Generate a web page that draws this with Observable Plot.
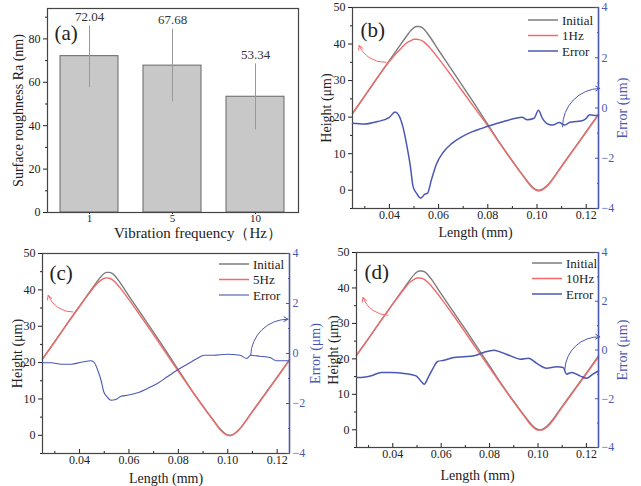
<!DOCTYPE html>
<html><head><meta charset="utf-8">
<script src="https://cdn.jsdelivr.net/npm/d3@7"></script>
<script src="https://cdn.jsdelivr.net/npm/@observablehq/plot@0.6"></script>
<style>
body{margin:0;background:#fff;}
#fig{position:relative;width:641px;height:486px;font-family:"Liberation Serif",serif;overflow:hidden;}
.pane{position:absolute;}
.pane svg{position:absolute;left:0;top:0;max-width:none;overflow:visible;}
.leg{position:absolute;}
</style></head><body><div id="fig"></div>
<script>
// ---------- panel (a) data ----------
const freqs = ["1", "5", "10"];
const ra = [72.04, 67.68, 53.34];
const raLow = [57.5, 51.0, 38.0];
const raHigh = [86.0, 84.5, 68.5];

// ---------- height profiles ----------
const xs = [0.025,0.030,0.035,0.040,0.045,0.047,0.049,0.050,0.051,0.052,0.053,0.054,0.056,0.060,0.065,0.070,0.075,0.080,0.085,0.090,0.095,0.097,0.099,0.100,0.101,0.102,0.104,0.110,0.115,0.120,0.125];
const initial = [21.0,25.8,30.7,35.5,40.3,42.2,43.9,44.5,44.8,44.8,44.6,44.1,42.4,38.3,33.3,28.3,23.2,18.0,12.8,8.0,3.4,1.7,0.4,0.1,0.0,0.2,1.2,6.6,11.3,16.0,20.8];
const hz1 = [21.0,25.8,30.7,35.3,39.0,40.3,41.0,41.3,41.3,41.2,41.0,40.6,39.3,36.0,31.5,26.8,22.2,17.6,12.7,7.9,3.3,1.5,0.2,-0.1,-0.2,0.0,1.0,6.5,11.2,15.9,20.7];
const hz5 = [21.0,25.8,30.7,35.5,40.0,41.7,42.8,43.2,43.3,43.2,42.9,42.4,40.9,37.3,32.5,27.6,22.6,17.6,12.7,7.9,3.3,1.5,0.3,0.0,-0.1,0.1,1.1,6.5,11.2,15.9,20.7];
const hz10 = [21.0,25.8,30.7,35.5,40.0,41.6,42.5,42.8,42.8,42.7,42.4,41.9,40.5,37.0,32.3,27.4,22.4,17.5,12.6,7.8,3.2,1.4,0.2,-0.1,-0.1,0.0,0.9,6.4,11.1,15.8,20.6];

// ---------- error profiles ----------
const errXb = [0.025,0.0297,0.0352,0.040,0.0423,0.0437,0.0455,0.0472,0.0486,0.0496,0.051,0.0527,0.0544,0.0555,0.0571,0.0591,0.0619,0.0653,0.0694,0.0735,0.0776,0.0817,0.0865,0.0913,0.094,0.096,0.0988,0.1006,0.1022,0.1039,0.1063,0.1091,0.1111,0.1132,0.1159,0.1186,0.120,0.1214,0.1241,0.125];
const errB = [-0.61,-0.64,-0.54,-0.37,-0.16,-0.27,-0.75,-1.56,-2.37,-3.12,-3.39,-3.59,-3.43,-3.39,-2.85,-2.24,-1.76,-1.42,-1.15,-0.95,-0.81,-0.68,-0.54,-0.41,-0.37,-0.47,-0.41,-0.09,-0.41,-0.61,-0.68,-0.58,-0.68,-0.58,-0.54,-0.50,-0.41,-0.27,-0.30,-0.30];
const errXc = [0.025,0.0286,0.0326,0.0366,0.0407,0.0447,0.046,0.0476,0.0487,0.0498,0.0511,0.0527,0.0547,0.0568,0.0594,0.0635,0.0675,0.0715,0.0755,0.0795,0.0836,0.0876,0.0905,0.0943,0.0996,0.105,0.1077,0.1093,0.113,0.1171,0.1197,0.125];
const errC = [-0.37,-0.37,-0.43,-0.43,-0.35,-0.29,-0.37,-0.73,-1.07,-1.53,-1.73,-1.87,-1.84,-1.71,-1.67,-1.57,-1.40,-1.20,-0.93,-0.67,-0.43,-0.20,-0.07,-0.07,-0.03,-0.07,-0.20,-0.07,-0.11,-0.16,-0.29,-0.29];
const errXd = [0.025,0.027,0.0311,0.0352,0.0393,0.0448,0.0496,0.0516,0.053,0.0546,0.0564,0.0585,0.0612,0.0653,0.0694,0.0735,0.0776,0.0817,0.0844,0.0886,0.0927,0.0961,0.0995,0.1036,0.1077,0.1104,0.1118,0.1139,0.1173,0.120,0.1227,0.125];
const errD = [-1.13,-1.13,-1.06,-0.92,-0.92,-0.96,-1.06,-1.27,-1.40,-1.13,-0.79,-0.47,-0.42,-0.31,-0.28,-0.24,-0.10,-0.01,-0.08,-0.24,-0.38,-0.34,-0.55,-0.75,-0.69,-0.72,-0.99,-0.92,-1.06,-1.16,-0.99,-0.86];

// ---------- annotation arrows (x1, y1, x2, y2) ----------
const redArrowB = [0.0386, 35.0, 0.0277, 39.6];
const blueArrowB = [0.1104, -0.75, 0.1255, 0.78];
const redArrowC = [0.0373, 33.9, 0.0273, 38.5];
const blueArrowC = [0.1093, -0.07, 0.1244, 1.37];
const redArrowD = [0.0380, 32.3, 0.0277, 37.3];
const blueArrowD = [0.1111, -0.79, 0.1255, 0.54];

// ---------- ticks ----------
const lenTicks = [0.04, 0.06, 0.08, 0.10, 0.12];
const lenMinor = [0.03, 0.05, 0.07, 0.09, 0.11];
const hTicks = [0, 10, 20, 30, 40, 50];
const hMinor = [-5, 5, 15, 25, 35, 45];
const eTicks = [-4, -2, 0, 2, 4];
const eMinor = [-3, -1, 1, 3];
const raTicks = [0, 20, 40, 60, 80];
const raMinor = [10, 30, 50, 70, 90];

const FONT = "Liberation Serif";
const GRAY = "#7c7c7c", RED = "#f06a6a", BLUE = "#4a58b4", AX = "#444";
const fig = document.getElementById("fig");

function pane(left, top) {
  const d = document.createElement("div");
  d.className = "pane";
  d.style.left = left + "px"; d.style.top = top + "px";
  fig.appendChild(d);
  return d;
}

// ================= panel (a) =================
{
  const bars = freqs.map((f, i) => ({f, v: ra[i], lo: raLow[i], hi: raHigh[i]}));
  const p = pane(0, 0);
  p.appendChild(Plot.plot({
    width: 320, height: 240,
    marginLeft: 47, marginRight: 22, marginTop: 8, marginBottom: 28,
    style: {fontFamily: FONT, fontSize: "12px", background: "transparent", color: "#222", overflow: "visible"},
    x: {domain: freqs, paddingInner: 0.3, paddingOuter: 0.15},
    y: {domain: [0, 94]},
    marks: [
      Plot.barY(bars, {x: "f", y: "v", fill: "#c8c8c8", stroke: "#666", strokeWidth: 1}),
      Plot.ruleX(bars, {x: "f", y1: "lo", y2: "hi", stroke: "#999", strokeWidth: 1}),
      Plot.text(bars, {x: "f", y: "hi", text: d => d.v.toFixed(2), dy: -9, fontSize: 13, fill: "#333"}),
      Plot.axisX({tickSize: 2, tickPadding: 0, label: null, fontSize: 11}),
      Plot.axisY({ticks: raTicks, tickSize: 4, tickPadding: 3, label: null, fontSize: 12}),
      Plot.axisY({ticks: raMinor, tickSize: 2, tickFormat: () => "", label: null}),
      Plot.text(["Vibration frequency\uFF08Hz\uFF09"], {frameAnchor: "bottom", text: d => d, dx: 25, dy: 21, lineAnchor: "middle", fontSize: 15, fill: "#222"}),
      Plot.text(["Surface roughness Ra (nm)"], {frameAnchor: "left", text: d => d, rotate: -90, dx: -29, textAnchor: "middle", lineAnchor: "middle", fontSize: 14, fill: "#222"}),
      Plot.text(["(a)"], {frameAnchor: "top-left", text: d => d, dx: 7, dy: 25, lineAnchor: "middle", textAnchor: "start", fontSize: 21, fill: "#222"}),
      Plot.frame({stroke: AX, strokeWidth: 1.2})
    ]
  }));
}

// ================= line panels =================
function linePanel(cfg) {
  const p = pane(cfg.left, cfg.top);
  const dims = {
    width: cfg.w, height: cfg.h,
    marginLeft: cfg.ml, marginRight: cfg.mr, marginTop: cfg.mt, marginBottom: cfg.mb
  };
  const hData = xs.map((x, i) => ({x, init: initial[i], hz: cfg.hz[i]}));
  const eData = cfg.ex.map((x, i) => ({x, e: cfg.err[i]}));
  const ra_ = cfg.redArrow, ba = cfg.blueArrow;
  // height layer
  p.appendChild(Plot.plot({
    ...dims,
    style: {fontFamily: FONT, fontSize: "12px", background: "transparent", color: "#222", overflow: "visible"},
    x: {domain: [0.025, 0.125]},
    y: {domain: [-5, 50]},
    marks: [
      Plot.axisX({ticks: lenTicks, tickFormat: d3.format(".2f"), tickSize: -4, tickPadding: 6, label: null, fontSize: 12}),
      Plot.axisX({ticks: lenMinor, tickSize: -2, tickFormat: () => "", label: null}),
      Plot.axisY({ticks: hTicks, tickSize: 4, tickPadding: 3, label: null, fontSize: 12}),
      Plot.axisY({ticks: hMinor, tickSize: 2, tickFormat: () => "", label: null}),
      Plot.text(["Length (mm)"], {frameAnchor: "bottom", text: d => d, dy: cfg.xlabDy, lineAnchor: "middle", fontSize: 14, fill: "#222"}),
      Plot.text(["Height (\u03BCm)"], {frameAnchor: "left", text: d => d, rotate: -90, dx: cfg.ylabDx, textAnchor: "middle", lineAnchor: "middle", fontSize: 14, fill: "#222"}),
      Plot.line(hData, {x: "x", y: "init", stroke: GRAY, strokeWidth: 1.4, curve: "monotone-x"}),
      Plot.line(hData, {x: "x", y: "hz", stroke: RED, strokeWidth: 1.4, curve: "monotone-x"}),
      Plot.arrow([ra_], {x1: d => d[0], y1: d => d[1], x2: d => d[2], y2: d => d[3], bend: 35, stroke: RED, strokeWidth: 1, headLength: 7}),
      Plot.text([cfg.label], {frameAnchor: "top-left", text: d => d, dx: cfg.labDx, dy: cfg.labDy, lineAnchor: "middle", textAnchor: "start", fontSize: 21, fill: "#222"}),
      Plot.frame({stroke: AX, strokeWidth: 1.2})
    ]
  }));
  // error layer
  p.appendChild(Plot.plot({
    ...dims,
    style: {fontFamily: FONT, fontSize: "12px", background: "transparent", color: BLUE, overflow: "visible"},
    x: {domain: [0.025, 0.125], axis: null},
    y: {domain: [-4, 4], axis: null},
    marks: [
      Plot.ruleX([0.125], {stroke: BLUE, strokeWidth: 1.4}),
      Plot.axisY({anchor: "right", ticks: eTicks, tickSize: -4, tickPadding: 7, label: null, fontSize: 12, stroke: BLUE, fill: BLUE}),
      Plot.axisY({anchor: "right", ticks: eMinor, tickSize: -2, tickFormat: () => "", label: null, stroke: BLUE}),
      Plot.text(["Error (\u03BCm)"], {frameAnchor: "right", text: d => d, rotate: -90, dx: cfg.elabDx, textAnchor: "middle", lineAnchor: "middle", fontSize: 14, fill: BLUE}),
      Plot.line(eData, {x: "x", y: "e", stroke: BLUE, strokeWidth: cfg.ew, curve: "monotone-x"}),
      Plot.arrow([ba], {x1: d => d[0], y1: d => d[1], x2: d => d[2], y2: d => d[3], bend: 45, stroke: BLUE, strokeWidth: 1, headLength: 7})
    ]
  }));
  // legend (inline SVG)
  const items = [["Initial", GRAY, 1.5], [cfg.hzName, RED, 1.5], ["Error", BLUE, cfg.ew]];
  const ns = "http://www.w3.org/2000/svg";
  const lg = document.createElementNS(ns, "svg");
  lg.setAttribute("class", "leg");
  lg.setAttribute("width", 80); lg.setAttribute("height", 50);
  lg.style.left = cfg.legX + "px"; lg.style.top = (cfg.legY - 8) + "px";
  items.forEach((it, i) => {
    const yy = 8 + i * cfg.legStep;
    const l = document.createElementNS(ns, "line");
    l.setAttribute("x1", 0); l.setAttribute("x2", 30);
    l.setAttribute("y1", yy); l.setAttribute("y2", yy);
    l.setAttribute("stroke", it[1]); l.setAttribute("stroke-width", it[2]);
    lg.appendChild(l);
    const t = document.createElementNS(ns, "text");
    t.setAttribute("x", 34); t.setAttribute("y", yy);
    t.setAttribute("dy", "0.35em");
    t.setAttribute("font-family", FONT); t.setAttribute("font-size", 13); t.setAttribute("fill", "#222");
    t.textContent = it[0];
    lg.appendChild(t);
  });
  fig.appendChild(lg);
}

linePanel({left: 320, top: 0, w: 321, h: 240, ml: 32, mr: 43, mt: 7, mb: 32,
  hz: hz1, hzName: "1Hz", ex: errXb, err: errB, ew: 1.5, redArrow: redArrowB, blueArrow: blueArrowB,
  label: "(b)", labDx: 8, labDy: 23, xlabDy: 24, ylabDx: -26, elabDx: 24,
  legX: 528, legY: 20, legStep: 15.5});
linePanel({left: 0, top: 240, w: 320, h: 246, ml: 42, mr: 31, mt: 13, mb: 33,
  hz: hz5, hzName: "5Hz", ex: errXc, err: errC, ew: 1.1, redArrow: redArrowC, blueArrow: blueArrowC,
  label: "(c)", labDx: 7, labDy: 20, xlabDy: 25, ylabDx: -25, elabDx: 26,
  legX: 219, legY: 264, legStep: 15.5});
linePanel({left: 320, top: 240, w: 321, h: 246, ml: 36, mr: 43, mt: 12, mb: 39,
  hz: hz10, hzName: "10Hz", ex: errXd, err: errD, ew: 1.5, redArrow: redArrowD, blueArrow: blueArrowD,
  label: "(d)", labDx: 8, labDy: 20, xlabDy: 28, ylabDx: -23, elabDx: 24,
  legX: 532, legY: 263, legStep: 15.5});
</script>
</body></html>
